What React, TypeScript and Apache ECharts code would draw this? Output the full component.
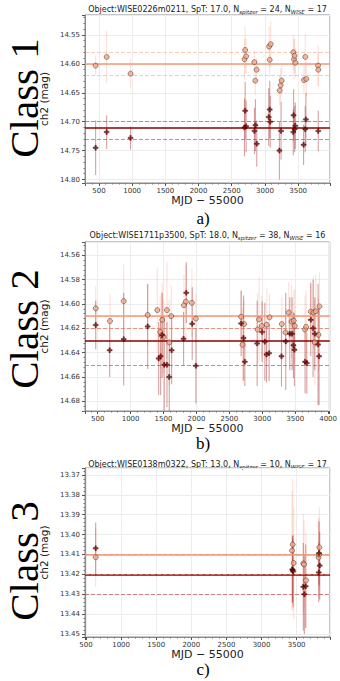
import React, { useEffect, useRef } from "react";
import * as echarts from "echarts";

// ---------- Panel a: WISE0226m0211 ----------
const aSpitzerMjd = [450, 616, 976, 2692, 2702, 2717, 2840, 2855, 2875, 3063, 3072, 3087, 3222, 3237, 3252, 3428, 3438, 3447, 3458, 3588, 3608, 3623, 3800, 3805];
const aSpitzerMag = [14.603, 14.588, 14.617, 14.592, 14.576, 14.587, 14.597, 14.629, 14.610, 14.570, 14.593, 14.566, 14.646, 14.637, 14.629, 14.580, 14.592, 14.586, 14.598, 14.628, 14.588, 14.626, 14.603, 14.610];
const aSpitzerErr = [0.017, 0.045, 0.026, 0.035, 0.04, 0.03, 0.02, 0.025, 0.02, 0.035, 0.03, 0.04, 0.025, 0.03, 0.025, 0.03, 0.035, 0.03, 0.025, 0.025, 0.04, 0.03, 0.035, 0.03];
const aWiseMjd = [450, 616, 976, 2692, 2702, 2717, 2842, 2857, 2877, 3057, 3072, 3080, 3218, 3243, 3427, 3432, 3447, 3457, 3582, 3607, 3617, 3803];
const aWiseMag = [14.745, 14.718, 14.728, 14.710, 14.681, 14.708, 14.716, 14.706, 14.738, 14.692, 14.679, 14.700, 14.750, 14.716, 14.718, 14.689, 14.713, 14.707, 14.740, 14.713, 14.696, 14.716];
const aWiseErr = [0.047, 0.029, 0.02, 0.05, 0.05, 0.045, 0.04, 0.045, 0.04, 0.05, 0.05, 0.045, 0.05, 0.05, 0.04, 0.045, 0.04, 0.04, 0.035, 0.04, 0.045, 0.035];
const aSpitzerLines = [14.5815, 14.6025, 14.623];
const aWiseLines = [14.695, 14.712, 14.731];

// ---------- Panel b: WISE1711p3500 ----------
const bSpitzerMjd = [470, 687, 895, 1259, 1405, 1450, 1471, 1480, 1501, 1552, 1587, 1617, 1810, 1840, 1931, 1992, 2679, 2700, 2725, 2928, 2952, 2993, 3069, 3110, 3297, 3353, 3403, 3444, 3479, 3494, 3650, 3666, 3737, 3778, 3798, 3813, 3854, 3869];
const bSpitzerMag = [14.6036, 14.614, 14.5976, 14.609, 14.605, 14.623, 14.626, 14.613, 14.627, 14.605, 14.6316, 14.610, 14.601, 14.598, 14.599, 14.612, 14.6105, 14.6335, 14.6165, 14.621, 14.6127, 14.618, 14.617, 14.611, 14.6165, 14.6234, 14.607, 14.6145, 14.6137, 14.618, 14.621, 14.6187, 14.6063, 14.607, 14.6316, 14.606, 14.6253, 14.602];
const bSpitzerErr = [0.018, 0.022, 0.03, 0.025, 0.035, 0.03, 0.035, 0.03, 0.03, 0.04, 0.035, 0.025, 0.025, 0.03, 0.028, 0.02, 0.022, 0.03, 0.02, 0.03, 0.035, 0.025, 0.03, 0.02, 0.022, 0.02, 0.025, 0.03, 0.025, 0.03, 0.028, 0.03, 0.025, 0.03, 0.035, 0.03, 0.03, 0.028];
const bWiseMjd = [470, 682, 895, 1259, 1426, 1456, 1480, 1511, 1552, 1587, 1623, 1805, 1845, 1936, 1992, 2679, 2715, 2735, 2922, 2998, 3039, 3064, 3104, 3292, 3357, 3418, 3453, 3474, 3489, 3650, 3676, 3737, 3772, 3798, 3848, 3863];
const bWiseMag = [14.6173, 14.638, 14.629, 14.6184, 14.6448, 14.643, 14.6256, 14.650, 14.650, 14.660, 14.638, 14.6286, 14.5907, 14.6162, 14.6508, 14.616, 14.628, 14.6475, 14.6324, 14.623, 14.631, 14.6415, 14.6404, 14.643, 14.6308, 14.6244, 14.6244, 14.634, 14.6376, 14.6475, 14.6486, 14.613, 14.620, 14.6244, 14.6333, 14.643];
const bWiseErr = [0.02, 0.022, 0.038, 0.035, 0.03, 0.032, 0.035, 0.04, 0.035, 0.03, 0.028, 0.022, 0.025, 0.03, 0.031, 0.027, 0.035, 0.02, 0.035, 0.025, 0.032, 0.023, 0.023, 0.025, 0.04, 0.03, 0.03, 0.027, 0.03, 0.026, 0.025, 0.03, 0.04, 0.03, 0.05, 0.04];
const bSpitzerLines = [14.605, 14.6143, 14.6236];
const bWiseLines = [14.6184, 14.6324, 14.6459];

// ---------- Panel c: WISE0138m0322 ----------
const cSpitzerMjd = [638, 3434, 3444, 3458, 3595, 3605, 3633, 3812, 3820, 3823];
const cSpitzerMag = [13.4114, 13.408, 13.405, 13.4143, 13.4145, 13.415, 13.423, 13.4115, 13.410, 13.4064];
const cSpitzerErr = [0.015, 0.03, 0.033, 0.028, 0.025, 0.022, 0.024, 0.02, 0.018, 0.02];
const cWiseMjd = [638, 3438, 3444, 3450, 3595, 3610, 3629, 3815, 3819, 3829];
const cWiseMag = [13.4069, 13.4175, 13.4178, 13.4185, 13.4262, 13.430, 13.426, 13.419, 13.4094, 13.4156];
const cWiseErr = [0.013, 0.017, 0.016, 0.018, 0.022, 0.02, 0.021, 0.015, 0.016, 0.017];
const cSpitzerLines = [13.4072, 13.4112, 13.4163];
const cWiseLines = [13.4103, 13.418, 13.4257];

// ---------- Titles / labels ----------
const objectNames = ["WISE0226m0211", "WISE1711p3500", "WISE0138m0322"];
const spectralTypes = ["17.0", "18.0", "13.0"];
const nSpitzer = [24, 38, 10];
const nWise = [17, 16, 17];
const classLabels = ["Class 1", "Class 2", "Class 3"];
const captions = ["a)", "b)", "c)"];
const xAxisName = "MJD \u2212 55000";
const yAxisName = "ch2 (mag)";

const SANS = "DejaVu Sans, sans-serif";
const SERIF = "Liberation Serif, Times New Roman, serif";

const SP_FILL = "#f4a582";
const SP_BAR = "rgba(245,160,130,0.32)";
const SP_MEAN = "#f39a78";
const SP_STD = "rgba(245,160,130,0.55)";
const W_FILL = "#8b0000";
const W_BAR = "rgba(160,30,30,0.42)";
const W_MEAN = "#8b0000";
const W_STD = "rgba(190,70,70,0.65)";

const PLUS = "path://M3.5,0H6.5V3.5H10V6.5H6.5V10H3.5V6.5H0V3.5H3.5Z";

const GRID_LEFT = 85;
const GRID_W = 245;

const panels = [
  { top: 15, height: 168, xMin: 290, xMax: 3980, yMin: 14.5155, yMax: 14.806, yStep: 0.05, titleY: 9, captionY: 218, classY: 98,
    sp: [aSpitzerMjd, aSpitzerMag, aSpitzerErr], wi: [aWiseMjd, aWiseMag, aWiseErr], spL: aSpitzerLines, wiL: aWiseLines },
  { top: 242, height: 169, xMin: 307, xMax: 4025, yMin: 14.549, yMax: 14.688, yStep: 0.02, titleY: 235, captionY: 443, classY: 329,
    sp: [bSpitzerMjd, bSpitzerMag, bSpitzerErr], wi: [bWiseMjd, bWiseMag, bWiseErr], spL: bSpitzerLines, wiL: bWiseLines },
  { top: 468, height: 169, xMin: 486, xMax: 3975, yMin: 13.3665, yMax: 13.4515, yStep: 0.01, titleY: 464, captionY: 669, classY: 561,
    sp: [cSpitzerMjd, cSpitzerMag, cSpitzerErr], wi: [cWiseMjd, cWiseMag, cWiseErr], spL: cSpitzerLines, wiL: cWiseLines },
];

function zip(arr: number[][]) {
  return arr[0].map((x, i) => [x, arr[1][i], arr[2][i]]);
}

function errBar(gi: number, data: number[][], color: string, z: number) {
  return {
    type: "custom",
    xAxisIndex: gi,
    yAxisIndex: gi,
    silent: true,
    clip: true,
    z,
    data,
    encode: { x: 0, y: 1 },
    renderItem: (_p: any, api: any) => {
      const x = api.value(0);
      const y = api.value(1);
      const e = api.value(2);
      const p1 = api.coord([x, y - e]);
      const p2 = api.coord([x, y + e]);
      return {
        type: "line",
        shape: { x1: p1[0], y1: p1[1], x2: p2[0], y2: p2[1] },
        style: { stroke: color, lineWidth: 1.1 },
      };
    },
  };
}

function buildOption() {
  const grid: any[] = [];
  const xAxis: any[] = [];
  const yAxis: any[] = [];
  const series: any[] = [];
  const graphic: any[] = [];

  panels.forEach((p, gi) => {
    grid.push({
      left: GRID_LEFT, top: p.top, width: GRID_W, height: p.height,
      show: true, borderColor: "#8c8c8c", borderWidth: 1, backgroundColor: "#ffffff",
    });
    xAxis.push({
      type: "value", gridIndex: gi, min: p.xMin, max: p.xMax,
      splitNumber: 8, minInterval: 500, maxInterval: 500,
      name: xAxisName, nameLocation: "middle", nameGap: 7,
      nameTextStyle: { fontFamily: SANS, fontSize: 11, color: "#222" },
      axisLine: { show: true, lineStyle: { color: "#8c8c8c" } },
      axisTick: { show: true, length: 3, lineStyle: { color: "#555" } },
      minorTick: { show: true, splitNumber: 5, length: 1.5, lineStyle: { color: "#777" } },
      axisLabel: { fontFamily: SANS, fontSize: 7, color: "#333", margin: 4, showMinLabel: false, showMaxLabel: false,
        formatter: (v: number) => String(Math.round(v)) },
      splitLine: { show: true, lineStyle: { color: "#ececec", width: 1 } },
    });
    yAxis.push({
      type: "value", gridIndex: gi, inverse: true, min: p.yMin, max: p.yMax,
      splitNumber: 8, minInterval: p.yStep, maxInterval: p.yStep,
      name: yAxisName, nameLocation: "middle", nameGap: 23, nameRotate: 90,
      nameTextStyle: { fontFamily: SANS, fontSize: 10.5, color: "#222" },
      axisLine: { show: true, lineStyle: { color: "#8c8c8c" } },
      axisTick: { show: true, length: 3, lineStyle: { color: "#555" } },
      minorTick: { show: true, splitNumber: 5, length: 1.5, lineStyle: { color: "#777" } },
      axisLabel: { fontFamily: SANS, fontSize: 7, color: "#333", margin: 5, showMinLabel: false, showMaxLabel: false,
        formatter: (v: number) => v.toFixed(2) },
      splitLine: { show: true, lineStyle: { color: "#ececec", width: 1 } },
    });

    const spData = zip(p.sp as number[][]);
    const wiData = zip(p.wi as number[][]);

    series.push(errBar(gi, spData, SP_BAR, 2));
    series.push(errBar(gi, wiData, W_BAR, 3));

    series.push({
      type: "scatter", xAxisIndex: gi, yAxisIndex: gi, z: 5, silent: true,
      data: spData.map((d) => [d[0], d[1]]),
      symbol: "circle", symbolSize: 5,
      itemStyle: { color: SP_FILL, borderColor: "#3a2520", borderWidth: 0.6 },
      markLine: {
        silent: true, symbol: "none", label: { show: false }, z: 4,
        data: [
          { yAxis: p.spL[0], lineStyle: { color: SP_STD, width: 1.1, type: [4, 2] } },
          { yAxis: p.spL[2], lineStyle: { color: SP_STD, width: 1.1, type: [4, 2] } },
          { yAxis: p.spL[1], lineStyle: { color: SP_MEAN, width: 1.5, type: "solid" } },
        ],
      },
    });
    series.push({
      type: "scatter", xAxisIndex: gi, yAxisIndex: gi, z: 6, silent: true,
      data: wiData.map((d) => [d[0], d[1]]),
      symbol: PLUS, symbolSize: 5,
      itemStyle: { color: W_FILL, borderColor: "#1a0000", borderWidth: 0.4 },
      markLine: {
        silent: true, symbol: "none", label: { show: false }, z: 3.9,
        data: [
          { yAxis: p.wiL[0], lineStyle: { color: W_STD, width: 1.1, type: [4, 2] } },
          { yAxis: p.wiL[2], lineStyle: { color: W_STD, width: 1.1, type: [4, 2] } },
          { yAxis: p.wiL[1], lineStyle: { color: W_MEAN, width: 1.5, type: "solid" } },
        ],
      },
    });

    graphic.push({
      type: "text", x: GRID_LEFT + GRID_W / 2, y: p.titleY, silent: true,
      style: {
        text: `{m|Object:${objectNames[gi]}, SpT: ${spectralTypes[gi]}, N}{s|spitzer}{m| = ${nSpitzer[gi]}, N}{s|WISE}{m| = ${nWise[gi]}}`,
        align: "center", verticalAlign: "middle",
        rich: {
          m: { fontFamily: SANS, fontSize: 8, fill: "#222", lineHeight: 11 },
          s: { fontFamily: SANS, fontSize: 5.5, fontStyle: "italic", fill: "#222", lineHeight: 6, verticalAlign: "bottom" },
        },
      },
    });
    graphic.push({
      type: "text", x: 24, y: p.classY, rotation: Math.PI / 2, silent: true,
      style: { text: classLabels[gi], fontFamily: SERIF, fontSize: 41, fill: "#000", align: "center", verticalAlign: "middle" },
    });
    graphic.push({
      type: "text", x: 203, y: p.captionY, silent: true,
      style: { text: captions[gi], fontFamily: SERIF, fontSize: 17, fill: "#000", align: "center", verticalAlign: "middle" },
    });
  });

  return { animation: false, backgroundColor: "#ffffff", grid, xAxis, yAxis, series, graphic };
}

export default function App() {
  const ref = useRef<HTMLDivElement>(null);
  useEffect(() => {
    if (!ref.current) return;
    const chart = echarts.init(ref.current, undefined, { renderer: "svg" });
    chart.setOption(buildOption() as any);
    return () => chart.dispose();
  }, []);
  return <div ref={ref} style={{ position: "fixed", left: 0, top: 0, width: 340, height: 681 }} />;
}
